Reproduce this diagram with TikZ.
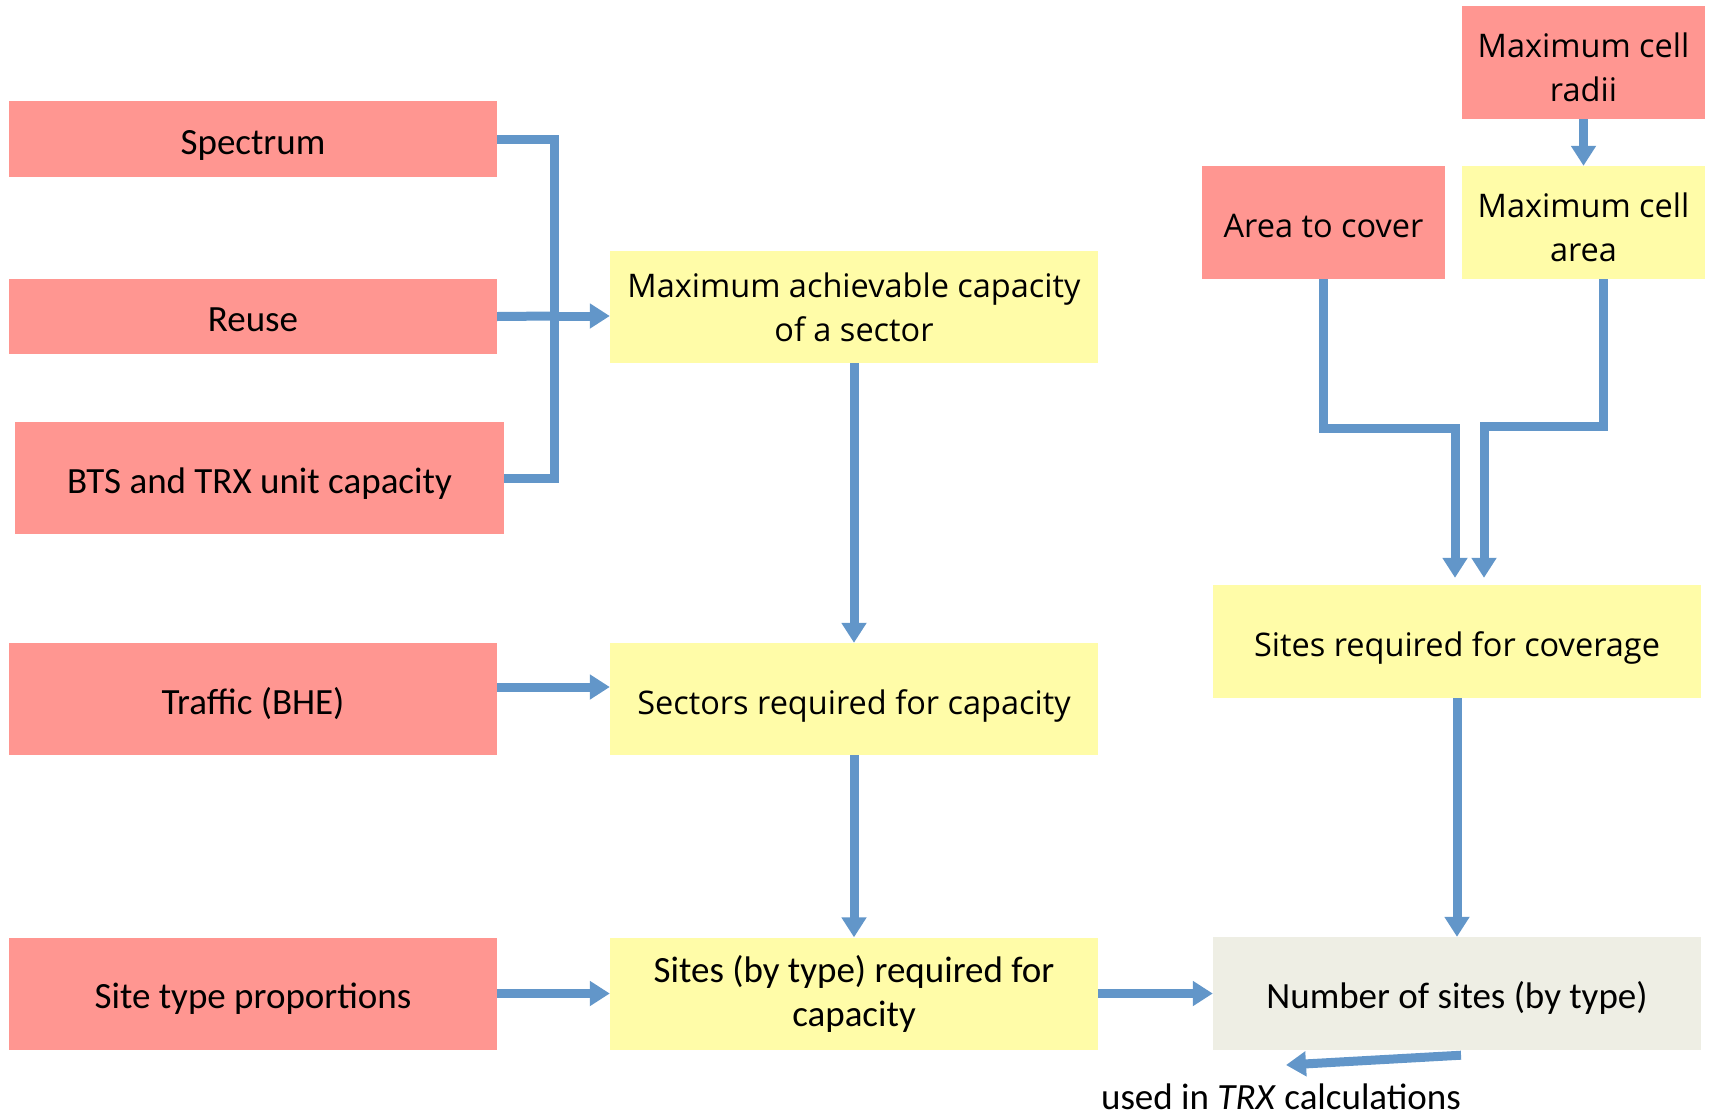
\documentclass[tikz,border=0pt]{standalone}
\usepackage{fontspec}
\setmainfont{Carlito}
\newfontfamily\opensans{Open Sans}
\usetikzlibrary{arrows.meta}

\definecolor{inputred}{HTML}{FF9691}
\definecolor{calcyellow}{HTML}{FFFCA8}
\definecolor{resultgrey}{HTML}{EEEEE4}
\definecolor{flowblue}{HTML}{6296C9}

\begin{document}
\begin{tikzpicture}[x=1pt,y=-1pt,
    box/.style={inner sep=0pt,minimum width=488pt,minimum height=112pt,align=center,
                font=\fontsize{37}{44}\selectfont},
    oneline/.style={text height=30pt,text depth=0pt},
    twoline/.style={text height=77pt,text depth=0pt},
    widefont/.style={font=\opensans\fontsize{32.5}{44}\selectfont},
    smallbox/.style={minimum width=243pt,minimum height=113pt}]
\useasboundingbox (0,0) rectangle (1709,1117);

\begin{scope}[every node/.style={box,fill=inputred}]
    \node[oneline,minimum height=76pt] (spectrum) at (253,139) {Spectrum};
    \node[oneline,minimum height=75pt] (reuse) at (253,316.5) {Reuse};
    \node[oneline,minimum width=489pt] (bts) at (259.5,478) {BTS and TRX unit capacity};
    \node[oneline] (traffic) at (253,699) {Traffic (BHE)};
    \node[oneline] (sitetype) at (253,993.5) {Site type proportions};
    \node[oneline,smallbox,widefont] (area) at (1323.5,222.5) {Area to cover};
    \node[twoline,smallbox,widefont] (radii) at (1583.5,62.75) {Maximum cell\\radii};
\end{scope}

\begin{scope}[every node/.style={box,fill=calcyellow}]
    \node[widefont] (maxcap) at (854,307) {Maximum achievable capacity\\of a sector};
    \node[oneline,widefont] (sectors) at (854,699) {Sectors required for capacity};
    \node (sitescap) at (854,993.5) {Sites (by type) required for\\capacity};
    \node[oneline,widefont,minimum height=113pt] (coverage) at (1457,641.5) {Sites required for coverage};
    \node[twoline,smallbox,widefont] (cellarea) at (1583.5,222.5) {Maximum cell\\area};
\end{scope}

\node[box,oneline,fill=resultgrey,minimum height=113pt] (numsites) at (1457,993.5) {Number of sites (by type)};
\node[font=\fontsize{37}{44}\selectfont,inner sep=0pt,anchor=base] (trxnote) at (1281,1109) {used in \textit{TRX} calculations};

\coordinate (join) at (554,316);
\coordinate (lbend) at (1455,428);
\coordinate (rbend) at (1484,426);
\coordinate (trxend) at (1286,1065);

\begin{scope}[>={Triangle[width=24pt,length=20pt]},
              every edge/.style={draw=flowblue,line width=9pt}]
    \draw[flowblue,line width=9pt] (spectrum.east) -| (join) |- (bts.east);
    \draw[flowblue,line width=9pt] (reuse.east) -- (join);
    \path [->] (join) edge (maxcap.west |- join);
    \path [->] (maxcap) edge (sectors);
    \path [->] ([yshift=12pt]traffic.east) edge ([yshift=12pt]sectors.west);
    \path [->] (sectors) edge (sitescap);
    \path [->] (sitetype) edge (sitescap);
    \path [->] (sitescap) edge (numsites);
    \path [->] (radii) edge (cellarea);
    \path [->] (coverage) edge (numsites);
    \draw[->,flowblue,line width=9pt] (area.south) |- (lbend) -- ([xshift=-2pt,yshift=7pt]coverage.north);
    \draw[->,flowblue,line width=9pt] ([xshift=20pt]cellarea.south) |- (rbend) -- ([xshift=27pt,yshift=7pt]coverage.north);
    \path [->] ([xshift=4pt,yshift=-5pt]numsites.south) edge (trxend);
\end{scope}
\end{tikzpicture}
\end{document}
